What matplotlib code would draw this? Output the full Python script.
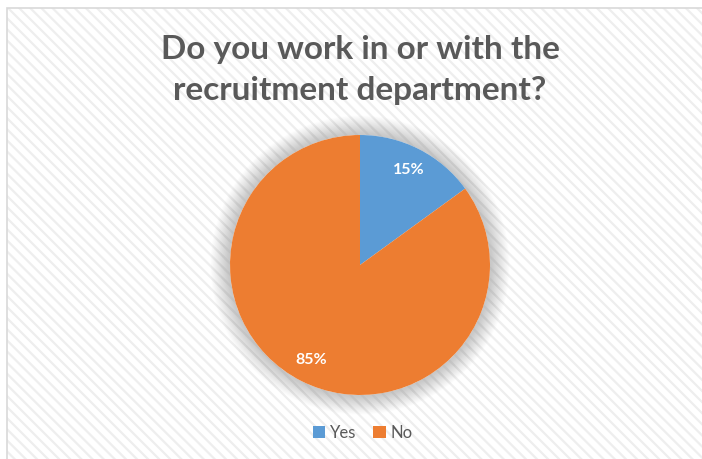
import numpy as np
import matplotlib
matplotlib.use("Agg")
import matplotlib.pyplot as plt
from matplotlib.patches import Rectangle, Circle

# Survey answers
answers = ["Yes", "No"]
shares = [15, 85]
colors = ["#5B9BD5", "#ED7D31"]
title = "Do you work in or with the\nrecruitment department?"

plt.rcParams["font.family"] = ["Lato", "DejaVu Sans"]
plt.rcParams["hatch.linewidth"] = 1.6

W, H = 702, 459
fig = plt.figure(figsize=(W / 100, H / 100), dpi=100)
fig.patch.set_facecolor("white")

# striped chart area background with a thin frame
bg = Rectangle((6.5 / W, 0), 1, 1 - 7.5 / H, transform=fig.transFigure,
               facecolor="white", edgecolor="#EEEEEE", linewidth=0,
               hatch="\\\\\\", zorder=-2)
fig.patches.append(bg)
frame = Rectangle((6.5 / W, -0.01), 1, 1.01 - 7.5 / H, transform=fig.transFigure,
                  facecolor="none", edgecolor="#D9D9D9", linewidth=1.2, zorder=-1)
fig.patches.append(frame)

# pie placed at center (360, 265) px, radius 130 px
cx, cy, r = 360, 265, 130
pad = 1.25
ax = fig.add_axes([(cx - r * pad) / W, (H - cy - r * pad) / H,
                   2 * r * pad / W, 2 * r * pad / H])
ax.set_xlim(-pad, pad)
ax.set_ylim(-pad, pad)
ax.set_aspect("equal")
ax.axis("off")

# soft glow behind the pie
for k in np.linspace(0.0, 0.15, 30):
    ax.add_patch(Circle((0, 0), 1 + k, facecolor="#8C8C8C",
                        edgecolor="none", alpha=0.014, zorder=1))
ax.add_patch(Circle((0, 0), 1.0, facecolor="white", edgecolor="none", zorder=1.5))

wedges, texts, autotexts = ax.pie(
    shares, colors=colors, startangle=90, counterclock=False,
    autopct="%1.0f%%", pctdistance=0.82, radius=1,
    wedgeprops=dict(linewidth=0),
    textprops=dict(color="white", fontsize=11.5, fontweight="bold"))
for w in wedges:
    w.set_zorder(2)
for t in autotexts:
    t.set_zorder(3)

fig.text(cx / W, 1 - 70 / H, title, ha="center", va="center",
         fontsize=24, fontweight="bold", color="#595959", linespacing=1.5)

leg = fig.legend(wedges, answers, loc="center", bbox_to_anchor=(363 / W, 1 - 433 / H),
                 ncol=2, frameon=False, fontsize=12, handlelength=0.75,
                 handleheight=0.75, handletextpad=0.3, columnspacing=1.0)
for t in leg.get_texts():
    t.set_color("#595959")

fig.savefig("out.png", dpi=100)
